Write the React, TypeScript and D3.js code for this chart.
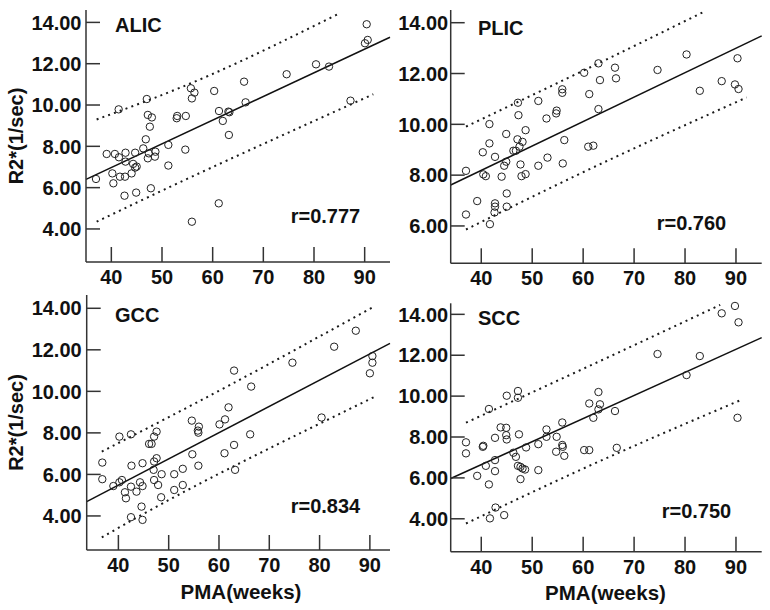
import React from 'react';
import * as d3 from 'd3';

type Pt = [number, number];

const X_TICKS = [40, 50, 60, 70, 80, 90];
const Y_TICKS_A = [4, 6, 8, 10, 12, 14];
const Y_TICKS_B = [6, 8, 10, 12, 14];
const R_VALUES = ['0.777', '0.760', '0.834', '0.750'];
const TITLES = ['ALIC', 'PLIC', 'GCC', 'SCC'];

const ALIC: Pt[] = [
  [36.97, 6.42], [39.08, 7.63], [40.2, 6.69], [40.4, 6.21], [40.7, 7.63], [41.45, 9.79], [41.5, 7.47],
  [41.7, 6.53], [42.6, 5.61], [42.8, 7.26], [42.8, 7.69], [42.7, 6.53], [44.0, 6.69], [44.3, 7.15],
  [44.7, 7.69], [44.9, 5.76], [45.0, 7.02], [44.7, 6.97], [46.3, 7.9], [46.8, 8.34], [47.0, 10.29],
  [47.2, 9.52], [47.2, 7.42], [47.6, 8.95], [47.8, 5.97], [48.0, 9.4], [48.6, 7.5], [48.7, 7.74],
  [47.4, 7.66], [51.25, 8.07], [51.25, 7.07], [52.9, 9.36], [53.0, 9.47], [54.7, 9.47], [54.6, 7.84],
  [55.7, 10.81], [55.9, 10.32], [56.4, 10.6], [55.9, 4.35], [60.3, 10.68], [61.2, 5.24], [61.25, 9.71],
  [62.0, 9.23], [63.1, 9.68], [63.3, 9.65], [63.2, 8.55], [66.2, 11.13], [66.5, 10.13], [74.6, 11.49],
  [80.4, 11.97], [82.96, 11.86], [87.2, 10.21], [90.4, 13.91], [90.06, 12.99], [90.6, 13.15],
];
const PLIC: Pt[] = [
  [37.0, 8.17], [37.0, 6.45], [39.2, 6.98], [40.3, 8.9], [40.4, 8.03], [40.9, 7.96], [41.6, 9.25],
  [41.6, 10.01], [41.7, 6.07], [42.7, 8.72], [42.7, 6.89], [42.7, 6.76], [42.6, 6.53], [44.0, 7.94],
  [44.9, 9.62], [44.5, 8.37], [44.9, 8.53], [45.0, 7.28], [45.0, 6.76], [46.3, 8.96], [46.8, 8.96],
  [47.1, 9.41], [47.3, 10.36], [47.2, 10.85], [47.5, 9.12], [47.7, 8.42], [47.9, 7.96], [48.1, 9.31],
  [48.7, 8.04], [48.7, 9.77], [51.2, 10.92], [51.2, 8.37], [52.8, 10.23], [53.0, 8.69], [54.7, 10.43],
  [54.8, 10.54], [55.9, 11.38], [55.9, 11.24], [56.0, 8.46], [56.3, 9.38], [60.2, 12.03], [61.0, 9.12],
  [62.0, 9.16], [61.2, 11.19], [63.0, 12.4], [63.0, 10.6], [63.3, 11.74], [66.25, 12.23], [66.45, 11.81],
  [74.6, 12.14], [80.3, 12.75], [82.9, 11.32], [87.2, 11.7], [89.8, 11.57], [90.5, 11.39], [90.3, 12.6],
];
const GCC: Pt[] = [
  [36.8, 6.57], [36.8, 5.77], [39.0, 5.44], [40.2, 7.82], [40.2, 5.62], [40.7, 5.73], [41.3, 5.14],
  [41.5, 4.85], [42.5, 7.93], [42.5, 5.41], [42.6, 6.42], [42.5, 3.94], [43.6, 5.17], [44.3, 5.62],
  [44.8, 6.54], [44.8, 5.44], [44.6, 4.45], [44.8, 3.81], [46.1, 7.47], [46.6, 7.47], [47.1, 7.82],
  [47.6, 8.06], [47.0, 6.22], [47.1, 6.62], [47.6, 6.78], [47.1, 5.73], [47.9, 5.49], [48.6, 6.01],
  [48.5, 4.9], [51.1, 6.01], [51.1, 5.25], [52.8, 6.27], [52.8, 5.49], [54.6, 8.59], [54.7, 6.97],
  [55.8, 8.11], [56.0, 8.3], [55.9, 6.42], [55.9, 8.01], [60.1, 8.41], [61.1, 7.02], [61.2, 8.65],
  [61.9, 9.23], [63.0, 11.0], [63.0, 7.42], [63.2, 6.22], [66.2, 7.93], [66.4, 10.23], [74.6, 11.38],
  [80.4, 8.74], [82.9, 12.15], [87.2, 12.92], [90.0, 10.87], [90.5, 11.38], [90.5, 11.7],
];
const SCC: Pt[] = [
  [37.0, 7.74], [37.0, 7.2], [39.2, 6.1], [40.3, 7.52], [40.4, 7.57], [40.9, 6.59], [41.5, 9.37],
  [41.5, 5.68], [42.7, 7.96], [42.7, 6.87], [42.7, 6.33], [42.8, 4.55], [41.7, 4.02], [43.8, 8.47],
  [44.9, 8.45], [44.9, 8.09], [45.0, 7.88], [45.0, 10.02], [44.5, 4.18], [46.3, 7.23], [46.8, 7.03],
  [47.2, 10.25], [47.2, 9.92], [47.4, 8.13], [47.2, 6.59], [47.7, 6.54], [48.1, 6.46], [48.6, 6.41],
  [47.7, 5.94], [48.8, 7.49], [51.2, 7.65], [51.2, 6.38], [52.8, 8.37], [52.8, 8.01], [54.7, 7.28],
  [54.8, 8.01], [55.9, 8.71], [55.9, 7.61], [56.0, 7.52], [56.3, 7.08], [60.2, 7.36], [61.2, 7.36],
  [61.2, 9.64], [62.0, 8.94], [63.0, 10.2], [63.3, 9.6], [63.0, 9.35], [66.25, 9.27], [66.6, 7.47],
  [74.6, 12.06], [80.3, 11.03], [82.9, 11.96], [87.2, 14.05], [89.8, 14.41], [90.5, 13.61], [90.3, 8.94],
];

// fitted line and prediction band lines (data units)
const ALIC_FIT: Pt[] = [[35, 6.4], [95, 13.28]];
const ALIC_UPPER: Pt[] = [[37.1, 9.3], [59.5, 11.45], [84.8, 14.41]];
const ALIC_LOWER: Pt[] = [[37.1, 4.35], [59.5, 6.94], [91.7, 10.52]];
const PLIC_FIT: Pt[] = [[34, 7.61], [95.05, 13.48]];
const PLIC_UPPER: Pt[] = [[37, 9.91], [63, 12.4], [83.7, 14.43]];
const PLIC_LOWER: Pt[] = [[37, 5.86], [63, 8.4], [92.1, 11.06]];
const GCC_FIT: Pt[] = [[33.7, 4.69], [94, 12.31]];
const GCC_UPPER: Pt[] = [[36.7, 7.1], [62.2, 10.31], [91, 14.11]];
const GCC_LOWER: Pt[] = [[36.7, 2.97], [58.2, 5.81], [91.3, 9.78]];
const SCC_FIT: Pt[] = [[34, 5.97], [95.05, 12.86]];
const SCC_UPPER: Pt[] = [[37, 8.7], [63, 11.68], [86.9, 14.46]];
const SCC_LOWER: Pt[] = [[37, 3.77], [63, 6.79], [91.25, 9.84]];

const FONT = "'Liberation Sans', Arial, Helvetica, sans-serif";

interface PanelCfg {
  title: string;
  r: string;
  pts: Pt[];
  fit: Pt[];
  upper: Pt[];
  lower: Pt[];
  yTicks: number[];
  xDomain: [number, number];
  xRange: [number, number];
  yDomain: [number, number];
  yRange: [number, number];
  labelGap: number;
  titlePos: [number, number];
  rPos: [number, number];
  yLabel?: [number, number];
  xLabel?: [number, number];
}

const panels: PanelCfg[] = [
  {
    title: TITLES[0], r: R_VALUES[0], pts: ALIC, fit: ALIC_FIT, upper: ALIC_UPPER, lower: ALIC_LOWER,
    yTicks: Y_TICKS_A, xDomain: [35, 95], xRange: [86, 390], yDomain: [2.4, 14.6], yRange: [262, 10],
    labelGap: 4.5, titlePos: [115, 31.7], rPos: [290.7, 222.5], yLabel: [23, 136],
  },
  {
    title: TITLES[1], r: R_VALUES[1], pts: PLIC, fit: PLIC_FIT, upper: PLIC_UPPER, lower: PLIC_LOWER,
    yTicks: Y_TICKS_B, xDomain: [34, 95.05], xRange: [450.7, 761.7], yDomain: [4.53, 14.5], yRange: [263.3, 10],
    labelGap: 2.5, titlePos: [478, 35], rPos: [656.7, 230],
  },
  {
    title: TITLES[2], r: R_VALUES[2], pts: GCC, fit: GCC_FIT, upper: GCC_UPPER, lower: GCC_LOWER,
    yTicks: Y_TICKS_A, xDomain: [33.7, 94], xRange: [86.7, 390], yDomain: [2.36, 14.64], yRange: [550, 295],
    labelGap: 5, titlePos: [115, 321.7], rPos: [290.7, 512.7], yLabel: [23, 422.5], xLabel: [241, 599],
  },
  {
    title: TITLES[3], r: R_VALUES[3], pts: SCC, fit: SCC_FIT, upper: SCC_UPPER, lower: SCC_LOWER,
    yTicks: Y_TICKS_A, xDomain: [34, 95.05], xRange: [450.7, 761.7], yDomain: [2.39, 14.54], yRange: [551.7, 303.3],
    labelGap: 2.5, titlePos: [478, 325], rPos: [661.7, 518.3], xLabel: [605.5, 600],
  },
];

const fmt = d3.format('.2f');

function Panel({ cfg }: { cfg: PanelCfg }) {
  const x = d3.scaleLinear().domain(cfg.xDomain).range(cfg.xRange);
  const y = d3.scaleLinear().domain(cfg.yDomain).range(cfg.yRange);
  const straight = d3.line<Pt>().x((d) => x(d[0])).y((d) => y(d[1]));
  const curved = d3.line<Pt>().x((d) => x(d[0])).y((d) => y(d[1])).curve(d3.curveNatural);
  const [x0, x1] = cfg.xRange;
  const [yb, yt] = cfg.yRange;
  const textStyle = { fontFamily: FONT, fontWeight: 700, fill: '#111' } as const;
  return (
    <g>
      {/* prediction band */}
      <path d={curved(cfg.upper) || ''} fill="none" stroke="#1a1a1a" strokeWidth={2} strokeDasharray="2,4.2" />
      <path d={curved(cfg.lower) || ''} fill="none" stroke="#1a1a1a" strokeWidth={2} strokeDasharray="2,4.2" />
      {/* fit line */}
      <path d={straight(cfg.fit) || ''} fill="none" stroke="#111" strokeWidth={1.5} />
      {/* points */}
      {cfg.pts.map((p, i) => (
        <circle key={i} cx={x(p[0])} cy={y(p[1])} r={3.7} fill="none" stroke="#222" strokeWidth={1} />
      ))}
      {/* axes */}
      <line x1={x0} x2={x0} y1={yt} y2={yb} stroke="#333" strokeWidth={1.5} />
      <line x1={x0} x2={x1} y1={yb} y2={yb} stroke="#333" strokeWidth={1.5} />
      {cfg.yTicks.map((t) => (
        <g key={'y' + t}>
          <line x1={x0} x2={x0 + 14} y1={y(t)} y2={y(t)} stroke="#333" strokeWidth={1.5} />
          <text x={x0 - cfg.labelGap} y={y(t)} dy="0.36em" textAnchor="end" fontSize={20} style={textStyle}>
            {fmt(t)}
          </text>
        </g>
      ))}
      {X_TICKS.map((t) => (
        <g key={'x' + t}>
          <line x1={x(t)} x2={x(t)} y1={yb} y2={yb - 15} stroke="#333" strokeWidth={1.5} />
          <text x={x(t)} y={yb + 22} textAnchor="middle" fontSize={20} style={textStyle}>
            {t}
          </text>
        </g>
      ))}
      <text x={cfg.titlePos[0]} y={cfg.titlePos[1]} fontSize={20} style={textStyle}>
        {cfg.title}
      </text>
      <text x={cfg.rPos[0]} y={cfg.rPos[1]} fontSize={20} style={textStyle}>
        {'r=' + cfg.r}
      </text>
      {cfg.yLabel && (
        <text
          transform={`translate(${cfg.yLabel[0]},${cfg.yLabel[1]}) rotate(-90)`}
          textAnchor="middle"
          fontSize={20}
          style={textStyle}
        >
          R2*(1/sec)
        </text>
      )}
      {cfg.xLabel && (
        <text x={cfg.xLabel[0]} y={cfg.xLabel[1]} textAnchor="middle" fontSize={20.5} style={textStyle}>
          PMA(weeks)
        </text>
      )}
    </g>
  );
}

export default function App() {
  return (
    <svg
      width={770}
      height={610}
      style={{ position: 'absolute', left: 0, top: 0, background: '#fff' }}
    >
      <rect x={0} y={0} width={770} height={610} fill="#fff" />
      {panels.map((p) => (
        <Panel key={p.title} cfg={p} />
      ))}
    </svg>
  );
}
